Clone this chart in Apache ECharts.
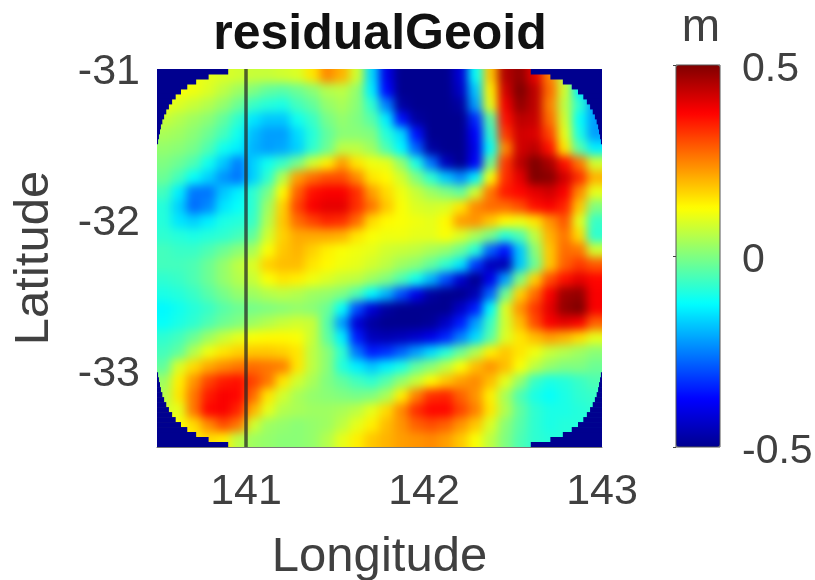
<!DOCTYPE html>
<html>
<head>
<meta charset="utf-8">
<style>html,body{margin:0;padding:0;background:#fff}#c{width:815px;height:580px;filter:blur(0.6px)}</style>
<script src="https://cdn.jsdelivr.net/npm/echarts@6/dist/echarts.min.js"></script>
</head>
<body>
<div id="c"></div>
<script>
const lonRange = [140.5, 143];
const latRange = [-33.5, -31];
const lonTicks = [141, 142, 143];
const latTicks = [-33, -32, -31];
const barTicks = [-0.5, 0, 0.5];
const trackLon = 141;
const jet = ['#00008f','#0000ff','#0080ff','#00ffff','#80ff80','#ffff00','#ff8000','#ff0000','#800000'];
// width in degrees of the tapered-window fill at each corner, outermost latitude step first
const taperWidthDeg = [0.40,0.29,0.22,0.17,0.135,0.105,0.085,0.067,0.052,0.04,0.03,0.022,0.017,0.011,0.006];
const taperStepLat = 0.033;
// residual geoid in cm, north row first, west column first
const residualCm = [
[12,12,11,10,9,8,7,7,8,9,15,24,20,8,-16,-40,-50,-50,-50,-50,-42,-12,18,45,48,40,25,6,-8,-20],
[12,12,11,9,6,3,0,-3,-4,-2,1,5,6,2,-14,-37,-50,-50,-50,-50,-44,-18,14,42,50,44,27,8,-14,-22],
[11,9,7,5,2,-2,-7,-9,-10,-6,-3,2,4,1,-8,-25,-48,-50,-50,-50,-48,-22,10,39,48,44,25,6,-8,-22],
[7,5,3,1,-3,-8,-15,-18,-18,-11,-7,-1,2,0,-4,-14,-36,-48,-50,-50,-50,-34,-4,36,44,43,27,8,-12,-22],
[4,3,1,-2,-6,-11,-19,-22,-22,-16,-9,-3,1,1,0,-9,-16,-36,-50,-50,-50,-38,-8,32,42,41,31,10,-10,-22],
[2,1,-1,-5,-11,-14,-20,-22,-21,-17,-8,-2,6,6,3,-5,-13,-28,-48,-50,-50,-40,-12,24,42,44,36,15,-4,-14],
[0,-2,-5,-11,-18,-25,-17,-11,-7,-1,8,14,22,15,11,10,2,-10,-26,-45,-50,-38,-2,32,44,50,46,36,26,8],
[-2,-6,-12,-17,-23,-26,-17,-8,5,22,27,30,30,24,15,13,8,0,-8,-18,-24,-14,12,33,40,50,49,42,33,20],
[-6,-14,-26,-26,-18,-14,-8,-1,13,28,36,38,38,33,22,16,11,7,3,0,-3,8,26,35,37,40,42,38,24,10],
[-9,-17,-27,-24,-15,-12,-8,3,17,31,38,40,40,33,26,18,12,9,8,9,15,24,27,27,30,36,38,34,18,0],
[-9,-15,-17,-14,-10,-9,-7,5,18,27,31,34,33,27,16,13,12,11,10,13,22,23,18,13,11,15,23,29,10,-7],
[-8,-9,-10,-9,-8,-6,-3,8,17,21,21,21,20,15,12,11,11,10,10,12,9,4,-1,-9,-5,6,20,26,16,-8],
[-6,-7,-7,-5,-2,1,4,12,18,20,17,14,12,11,10,8,7,6,4,2,-2,-9,-28,-36,-18,1,18,27,26,8],
[-6,-6,-5,-2,2,6,9,17,19,19,15,13,11,10,8,6,3,1,-3,-8,-15,-32,-45,-46,-18,-2,18,28,32,29],
[-8,-7,-5,-2,2,5,7,12,15,14,11,9,7,6,3,0,-5,-11,-20,-30,-43,-50,-40,-22,0,17,30,36,40,37],
[-10,-9,-7,-4,-1,2,3,5,6,5,3,2,0,-5,-13,-20,-30,-40,-48,-50,-50,-46,-28,-2,17,27,38,47,48,38],
[-13,-11,-9,-7,-4,-2,-1,0,1,2,1,-2,-12,-30,-42,-48,-50,-50,-50,-50,-44,-35,-13,9,23,32,40,48,50,38],
[-12,-10,-8,-5,-2,0,3,5,7,8,7,-4,-22,-42,-48,-50,-50,-50,-49,-44,-35,-22,-7,8,19,30,38,40,38,28],
[-8,-6,-2,3,7,10,12,13,13,12,7,-3,-14,-35,-45,-46,-45,-43,-40,-34,-25,-16,-4,9,15,19,22,20,16,10],
[-6,-3,5,11,15,17,18,18,17,15,6,1,-8,-26,-35,-33,-28,-22,-16,-9,-2,5,14,18,15,11,7,5,3,1],
[-3,9,16,21,24,26,27,26,25,15,6,1,-9,-14,-18,-14,-10,-3,1,6,12,19,23,19,12,6,2,0,0,-2],
[3,14,23,31,35,36,31,26,15,8,4,0,-3,-6,-8,-4,2,7,13,18,22,24,19,10,2,-7,-10,-9,-7,-5],
[5,15,26,35,38,37,27,15,8,4,2,1,0,-1,0,4,14,25,33,34,28,23,14,4,-5,-10,-12,-10,-8,-7],
[8,10,26,37,38,34,20,10,5,4,3,3,4,6,10,16,24,33,37,37,31,25,15,5,-3,-8,-10,-10,-9,-8],
[10,12,16,24,30,26,8,3,2,1,2,3,6,10,14,19,23,28,30,28,23,18,9,1,-4,-8,-10,-9,-9,-9],
[10,12,14,16,14,6,3,2,1,1,2,5,10,14,18,20,22,23,24,22,18,12,6,0,-5,-8,-9,-9,-9,-9]
];

const nRows = residualCm.length, nCols = residualCm[0].length;
const dLon = (lonRange[1] - lonRange[0]) / nCols;
const dLat = (latRange[1] - latRange[0]) / nRows;
const cells = [];
residualCm.forEach((row, j) => row.forEach((v, i) => {
  cells.push([lonRange[0] + (i + 0.5) * dLon, latRange[1] - (j + 0.5) * dLat, v / 100, i, j]);
}));
const taperRects = [];
taperWidthDeg.forEach((w, k) => {
  const n = latRange[1] - k * taperStepLat, s = latRange[0] + k * taperStepLat;
  taperRects.push([lonRange[0], lonRange[0] + w, n, n - taperStepLat]);
  taperRects.push([lonRange[1] - w, lonRange[1], n, n - taperStepLat]);
  taperRects.push([lonRange[0], lonRange[0] + w, s + taperStepLat, s]);
  taperRects.push([lonRange[1] - w, lonRange[1], s + taperStepLat, s]);
});

const tickFont = 43, barFont = 41, labelFont = 49, ink = '#404040', family = '"Liberation Sans"';
const PAD = 16; // outer cells overdraw the frame so the soft edge stays full colour after clipping

const chart = echarts.init(document.getElementById('c'), null, {renderer: 'canvas', width: 815, height: 580});
chart.setOption({
  animation: false,
  backgroundColor: '#fff',
  textStyle: {fontFamily: family},
  title: [
    {text: 'residualGeoid', left: 375, top: 5, textAlign: 'center',
     textStyle: {fontSize: 50, fontWeight: 'bold', color: '#111', fontFamily: family}},
    {text: 'm', left: 696, top: 0, textAlign: 'center',
     textStyle: {fontSize: 46, fontWeight: 'normal', color: ink, fontFamily: family}}
  ],
  grid: [
    {left: 157, top: 69, width: 445, height: 378, outerBoundsMode: 'none'},
    {left: 676, top: 65, width: 44, height: 382, outerBoundsMode: 'none', show: true, backgroundColor: 'transparent',
     borderColor: '#555', borderWidth: 1, zlevel: 1, z: 10}
  ],
  xAxis: [
    {type: 'value', gridIndex: 0, min: lonRange[0], max: lonRange[1], name: 'Longitude', nameLocation: 'middle', nameGap: 86,
     nameTextStyle: {fontSize: labelFont, color: ink, fontFamily: family},
     axisLine: {show: true, lineStyle: {color: '#777', width: 1}},
     axisTick: {show: false}, splitLine: {show: false},
     axisLabel: {customValues: lonTicks, fontSize: tickFont, color: ink, margin: 24, fontFamily: family, hideOverlap: false}},
    {type: 'value', gridIndex: 1, min: 0, max: 1, show: false}
  ],
  yAxis: [
    {type: 'value', gridIndex: 0, min: latRange[0], max: latRange[1], name: 'Latitude', nameLocation: 'middle', nameGap: 98, nameRotate: 90,
     nameTextStyle: {fontSize: labelFont, color: ink, fontFamily: family},
     axisLine: {show: false}, axisTick: {show: false}, splitLine: {show: false},
     axisLabel: {customValues: latTicks, margin: 17, hideOverlap: false, formatter: '{a|{value}}',
       rich: {a: {fontSize: tickFont, color: ink, fontFamily: family, padding: [6, 0, 0, 0]}}}},
    {type: 'value', gridIndex: 1, position: 'right', min: -0.5, max: 0.5, zlevel: 1, z: 10,
     axisLine: {show: false}, splitLine: {show: false},
     axisTick: {show: true, customValues: barTicks, inside: true, length: 3, lineStyle: {color: '#444'}},
     axisLabel: {customValues: barTicks, margin: 22, hideOverlap: false, formatter: '{a|{value}}',
       rich: {a: {fontSize: barFont, color: ink, fontFamily: family, padding: [10, 0, 0, 0]}}}}
  ],
  visualMap: {
    type: 'continuous', min: -0.5, max: 0.5, dimension: 2, seriesIndex: 0,
    left: 676, top: 65, itemWidth: 44, itemHeight: 382, calculable: false, realtime: false,
    text: ['', ''], showLabel: false, inRange: {color: jet}, borderWidth: 0, padding: 0
  },
  series: [
    {type: 'custom', xAxisIndex: 0, yAxisIndex: 0, zlevel: 5, clip: false, silent: true,
     data: cells, encode: {x: 0, y: 1},
     renderItem: function (params, api) {
       const lon = api.value(0), lat = api.value(1), i = api.value(3), j = api.value(4);
       const a = api.coord([lon - dLon / 2, lat + dLat / 2]);
       const b = api.coord([lon + dLon / 2, lat - dLat / 2]);
       const x0 = a[0] - (i === 0 ? PAD : 0.5), x1 = b[0] + (i === nCols - 1 ? PAD : 0.5);
       const y0 = a[1] - (j === 0 ? PAD : 0.5), y1 = b[1] + (j === nRows - 1 ? PAD : 0.5);
       return {type: 'rect', shape: {x: x0, y: y0, width: x1 - x0, height: y1 - y0},
               style: {fill: api.visual('color')}};
     }},
    {type: 'custom', xAxisIndex: 0, yAxisIndex: 0, zlevel: 6, clip: true, silent: true,
     data: taperRects, encode: {x: [0, 1], y: [2, 3]},
     renderItem: function (params, api) {
       const a = api.coord([api.value(0), api.value(2)]);
       const b = api.coord([api.value(1), api.value(3)]);
       return {type: 'rect', shape: {x: a[0], y: a[1], width: b[0] - a[0], height: b[1] - a[1] + 0.5},
               style: {fill: jet[0]}};
     }},
    {type: 'line', xAxisIndex: 0, yAxisIndex: 0, zlevel: 7, symbol: 'none', silent: true, clip: false,
     data: [[trackLon, latRange[1]], [trackLon, latRange[0]]],
     lineStyle: {color: '#222', width: 3.5, opacity: 0.72}}
  ]
});
chart.getZr().flush();
// soften the cell grid the way the reference's raster is smoothed, keeping it inside the frame
const heatLayer = chart.getZr().painter.getLayer(5);
heatLayer.dom.style.filter = 'blur(5px)';
heatLayer.dom.style.clipPath = 'inset(69px 213px 133px 157px)';
</script>
</body>
</html>
